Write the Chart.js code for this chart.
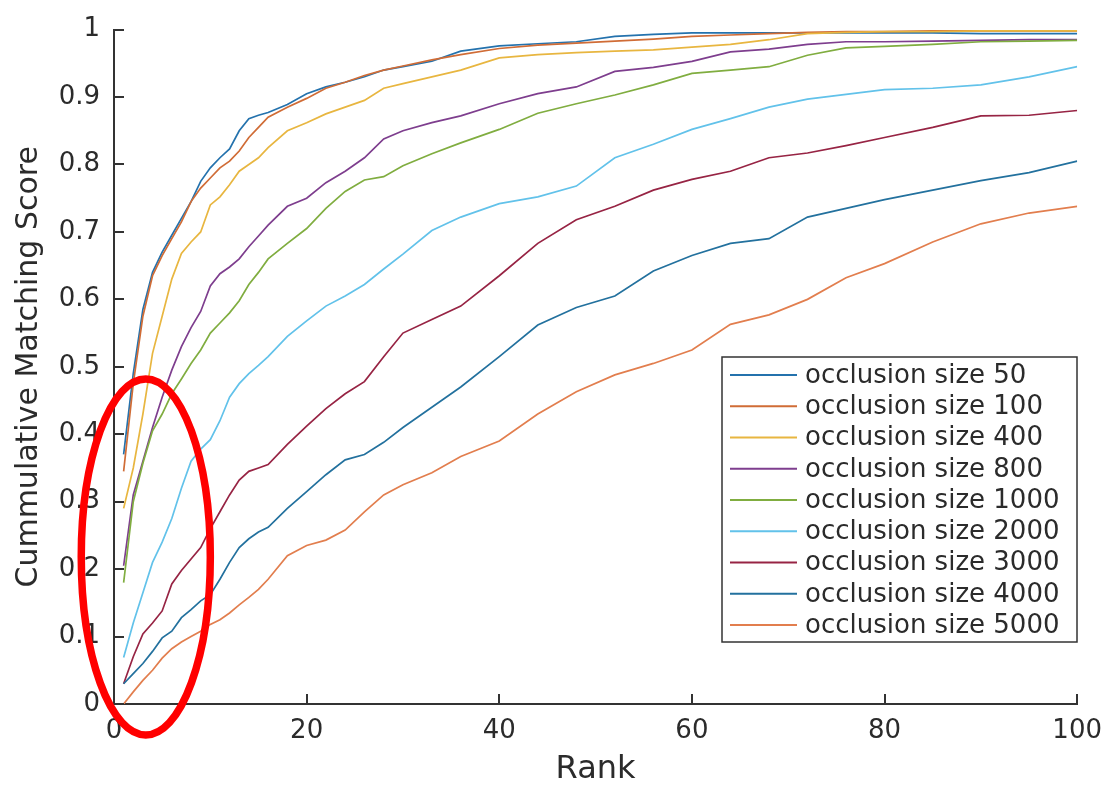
<!DOCTYPE html>
<html>
<head>
<meta charset="utf-8">
<script src="https://cdn.jsdelivr.net/npm/chart.js@4.4.0/dist/chart.umd.min.js"></script>
<style>
html, body { margin: 0; padding: 0; background: #fff; }
</style>
</head>
<body>
<canvas id="myChart" width="1114" height="786"></canvas>
<script>
// ranks
var ranks = [1, 2, 3, 4, 5, 6, 7, 8, 9, 10, 11, 12, 13, 14, 15, 16, 18, 20, 22, 24, 26, 28, 30, 33, 36, 40, 44, 48, 52, 56, 60, 64, 68, 72, 76, 80, 85, 90, 95, 100];

var occ50   = [0.37, 0.49, 0.585, 0.64, 0.67, 0.695, 0.72, 0.745, 0.775, 0.795, 0.81, 0.823, 0.85, 0.868, 0.873, 0.877, 0.889, 0.905, 0.915, 0.922, 0.93, 0.94, 0.945, 0.953, 0.968, 0.976, 0.979, 0.982, 0.99, 0.993, 0.995, 0.995, 0.995, 0.995, 0.995, 0.995, 0.995, 0.994, 0.994, 0.994];
var occ100  = [0.345, 0.475, 0.575, 0.635, 0.665, 0.69, 0.715, 0.745, 0.765, 0.78, 0.795, 0.805, 0.82, 0.84, 0.855, 0.87, 0.885, 0.898, 0.913, 0.922, 0.932, 0.94, 0.946, 0.955, 0.963, 0.972, 0.977, 0.98, 0.983, 0.986, 0.99, 0.992, 0.994, 0.996, 0.997, 0.997, 0.998, 0.998, 0.998, 0.998];
var occ400  = [0.29, 0.35, 0.43, 0.52, 0.575, 0.63, 0.668, 0.685, 0.70, 0.74, 0.752, 0.77, 0.79, 0.80, 0.81, 0.825, 0.85, 0.862, 0.875, 0.885, 0.895, 0.913, 0.92, 0.93, 0.94, 0.958, 0.963, 0.966, 0.968, 0.97, 0.974, 0.978, 0.985, 0.994, 0.996, 0.997, 0.997, 0.998, 0.998, 0.998];
var occ800  = [0.205, 0.31, 0.36, 0.41, 0.455, 0.495, 0.53, 0.558, 0.582, 0.62, 0.638, 0.648, 0.66, 0.678, 0.694, 0.71, 0.738, 0.75, 0.773, 0.79, 0.81, 0.838, 0.85, 0.862, 0.872, 0.89, 0.905, 0.915, 0.938, 0.944, 0.953, 0.967, 0.971, 0.978, 0.982, 0.982, 0.983, 0.984, 0.985, 0.985];
var occ1000 = [0.18, 0.30, 0.357, 0.405, 0.43, 0.46, 0.482, 0.505, 0.525, 0.55, 0.565, 0.58, 0.598, 0.622, 0.64, 0.66, 0.683, 0.705, 0.735, 0.76, 0.777, 0.782, 0.798, 0.816, 0.832, 0.852, 0.876, 0.89, 0.903, 0.918, 0.935, 0.94, 0.945, 0.962, 0.973, 0.975, 0.978, 0.982, 0.983, 0.984];
var occ2000 = [0.069, 0.12, 0.165, 0.21, 0.24, 0.275, 0.32, 0.36, 0.378, 0.392, 0.42, 0.455, 0.475, 0.49, 0.502, 0.515, 0.545, 0.568, 0.59, 0.605, 0.622, 0.645, 0.667, 0.702, 0.722, 0.742, 0.752, 0.768, 0.81, 0.83, 0.852, 0.868, 0.885, 0.897, 0.904, 0.911, 0.913, 0.918, 0.93, 0.945];
var occ3000 = [0.03, 0.07, 0.104, 0.12, 0.138, 0.178, 0.198, 0.215, 0.232, 0.26, 0.285, 0.31, 0.332, 0.345, 0.35, 0.355, 0.385, 0.412, 0.438, 0.46, 0.478, 0.515, 0.55, 0.57, 0.59, 0.635, 0.683, 0.718, 0.738, 0.762, 0.778, 0.79, 0.81, 0.817, 0.828, 0.84, 0.855, 0.872, 0.873, 0.88];
var occ4000 = [0.03, 0.045, 0.06, 0.078, 0.098, 0.108, 0.128, 0.14, 0.153, 0.162, 0.185, 0.21, 0.232, 0.245, 0.255, 0.262, 0.29, 0.315, 0.34, 0.362, 0.37, 0.388, 0.41, 0.44, 0.47, 0.515, 0.562, 0.588, 0.605, 0.642, 0.665, 0.683, 0.69, 0.722, 0.735, 0.748, 0.762, 0.776, 0.788, 0.805];
var occ5000 = [0.0, 0.018, 0.035, 0.05, 0.068, 0.082, 0.092, 0.1, 0.108, 0.118, 0.125, 0.135, 0.147, 0.158, 0.17, 0.185, 0.22, 0.235, 0.243, 0.258, 0.285, 0.31, 0.325, 0.343, 0.367, 0.39, 0.43, 0.463, 0.488, 0.505, 0.525, 0.563, 0.577, 0.6, 0.632, 0.653, 0.685, 0.712, 0.728, 0.738];

var seriesLabels = ['occlusion size 50', 'occlusion size 100', 'occlusion size 400', 'occlusion size 800',
    'occlusion size 1000', 'occlusion size 2000', 'occlusion size 3000', 'occlusion size 4000', 'occlusion size 5000'];
var seriesValues = [occ50, occ100, occ400, occ800, occ1000, occ2000, occ3000, occ4000, occ5000];
var seriesColors = ['#2472ad', '#d06c36', '#e8b640', '#7e3e8e', '#80ad40', '#62c2ea', '#972444', '#23719e', '#e27e4e'];

var xTickValues = [0, 20, 40, 60, 80, 100];
var yTickValues = [0, 0.1, 0.2, 0.3, 0.4, 0.5, 0.6, 0.7, 0.8, 0.9, 1];

// red ellipse drawn over the low ranks (centre in data units)
var markRank = 3.3;
var markScore = 0.218;
var markHalfRank = 6.7;
var markHalfScore = 0.264;

var axisColor = '#333333';
var textColor = '#2b2b2b';
var fontName = '"DejaVu Sans", sans-serif';

function makeDatasets() {
    var sets = [];
    for (var i = 0; i < seriesLabels.length; i++) {
        var pts = [];
        for (var j = 0; j < ranks.length; j++) {
            pts.push({x: ranks[j], y: seriesValues[i][j]});
        }
        sets.push({
            label: seriesLabels[i],
            data: pts,
            borderColor: seriesColors[i],
            borderWidth: 1.7,
            pointRadius: 0,
            tension: 0,
            fill: false,
            order: -i
        });
    }
    return sets;
}

// matlab style ticks pointing into the plot
var innerTicks = {
    id: 'innerTicks',
    afterDraw: function(chart) {
        var ctx = chart.ctx;
        var xs = chart.scales.x, ys = chart.scales.y;
        var area = chart.chartArea;
        ctx.save();
        ctx.strokeStyle = axisColor;
        ctx.lineWidth = 2;
        ctx.beginPath();
        xTickValues.forEach(function(v) {
            var px = Math.round(xs.getPixelForValue(v));
            ctx.moveTo(px, area.bottom);
            ctx.lineTo(px, area.bottom - 10);
        });
        yTickValues.forEach(function(v) {
            var py = Math.round(ys.getPixelForValue(v));
            ctx.moveTo(area.left, py);
            ctx.lineTo(area.left + 10, py);
        });
        ctx.stroke();
        ctx.restore();
    }
};

var boxLegend = {
    id: 'boxLegend',
    afterDraw: function(chart) {
        var ctx = chart.ctx;
        var left = 722, top = 357, w = 355, h = 285;
        ctx.save();
        ctx.fillStyle = '#ffffff';
        ctx.fillRect(left, top, w, h);
        ctx.strokeStyle = axisColor;
        ctx.lineWidth = 1.5;
        ctx.strokeRect(left, top, w, h);
        ctx.font = '26px ' + fontName;
        ctx.textBaseline = 'middle';
        ctx.textAlign = 'left';
        for (var i = 0; i < seriesLabels.length; i++) {
            var y = top + 18 + i * 31.25;
            ctx.strokeStyle = seriesColors[i];
            ctx.lineWidth = 2;
            ctx.beginPath();
            ctx.moveTo(730, y);
            ctx.lineTo(797, y);
            ctx.stroke();
            ctx.fillStyle = textColor;
            ctx.fillText(seriesLabels[i], 805, y + 1);
        }
        ctx.restore();
    }
};

var redMark = {
    id: 'redMark',
    afterDraw: function(chart) {
        var ctx = chart.ctx;
        var xs = chart.scales.x, ys = chart.scales.y;
        var cx = xs.getPixelForValue(markRank);
        var cy = ys.getPixelForValue(markScore);
        var rx = xs.getPixelForValue(markRank + markHalfRank) - cx;
        var ry = cy - ys.getPixelForValue(markScore + markHalfScore);
        ctx.save();
        ctx.strokeStyle = '#ff0000';
        ctx.lineWidth = 7.5;
        ctx.beginPath();
        ctx.ellipse(cx, cy, rx, ry, 0, 0, Math.PI * 2);
        ctx.stroke();
        ctx.restore();
    }
};

var ctx = document.getElementById('myChart').getContext('2d');
var chart = new Chart(ctx, {
    type: 'line',
    data: { datasets: makeDatasets() },
    options: {
        responsive: false,
        animation: false,
        layout: { padding: { left: 0, top: 21, right: 31, bottom: 0 } },
        plugins: { legend: { display: false }, tooltip: { enabled: false } },
        scales: {
            x: {
                type: 'linear',
                min: 0, max: 100,
                afterFit: function(scale) { scale.height = 82; },
                afterBuildTicks: function(scale) {
                    scale.ticks = xTickValues.map(function(v) { return {value: v}; });
                },
                grid: { display: false, drawTicks: false },
                border: { display: true, color: axisColor, width: 2 },
                ticks: {
                    color: textColor,
                    font: { family: fontName, size: 26 },
                    padding: 12,
                    maxRotation: 0
                },
                title: {
                    display: true,
                    text: 'Rank',
                    color: textColor,
                    font: { family: fontName, size: 32, lineHeight: 1 },
                    padding: { top: 0, bottom: 0 }
                }
            },
            y: {
                type: 'linear',
                min: 0, max: 1,
                afterFit: function(scale) { scale.width = 114; },
                afterBuildTicks: function(scale) {
                    scale.ticks = yTickValues.map(function(v) { return {value: v}; });
                },
                grid: { display: false, drawTicks: false },
                border: { display: true, color: axisColor, width: 2 },
                ticks: {
                    color: textColor,
                    font: { family: fontName, size: 26 },
                    padding: 14,
                    callback: function(v) { return String(+v.toFixed(1)); }
                },
                title: {
                    display: true,
                    text: 'Cummulative Matching Score',
                    color: textColor,
                    font: { family: fontName, size: 30, lineHeight: 1 },
                    padding: { top: 14, bottom: 0 }
                }
            }
        }
    },
    plugins: [innerTicks, boxLegend, redMark]
});
</script>
</body>
</html>
